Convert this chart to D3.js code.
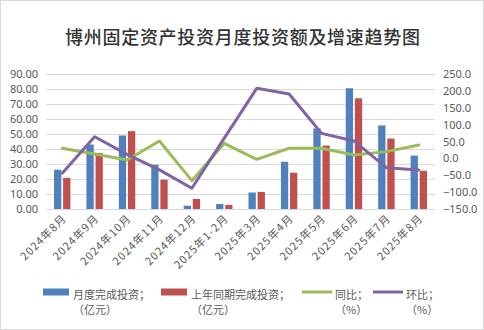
<!DOCTYPE html>
<html><head><meta charset="utf-8">
<script src="https://cdn.jsdelivr.net/npm/d3@7/dist/d3.min.js"></script>
<style>
html,body{margin:0;padding:0;background:#fff;}
svg{display:block;font-family:"Noto Sans CJK SC","Noto Sans",sans-serif;}
</style></head>
<body>
<svg id="chart" width="484" height="330"></svg>
<script>
const categories = ["2024年8月","2024年9月","2024年10月","2024年11月","2024年12月","2025年1-2月","2025年3月","2025年4月","2025年5月","2025年6月","2025年7月","2025年8月"];
const monthly = [26.2, 43.0, 49.0, 29.5, 2.2, 3.3, 11.0, 31.5, 53.7, 80.5, 55.7, 35.6];
const lastYear = [20.8, 37.4, 51.9, 19.5, 6.7, 2.7, 11.4, 24.2, 42.3, 73.8, 47.0, 25.5];
const yoy = [30, 13, -4.7, 51.6, -66, 44.7, -2.8, 30, 30, 10, 20, 39.7];
const mom = [-44, 64, 12, -34, -88.7, 60, 207.6, 190.8, 74, 51.6, -27.5, -34.4];
const leftTicks = [0,10,20,30,40,50,60,70,80,90];
const rightTicks = [-150,-100,-50,0,50,100,150,200,250];
const legendLabels = [["月度完成投资；","（亿元）"],["上年同期完成投资；","（亿元）"],["同比；","（%）"],["环比；","（%）"]];

(function(){
const colors = {blue:"#4f81bd", red:"#c0504d", green:"#9bbb59", purple:"#8064a2"};
const svg = d3.select("#chart");
const pTop = 74, pBottom = 209, pLeft = 46, pRight = 435;

svg.append("rect").attr("x",0.5).attr("y",0.5).attr("width",483).attr("height",329)
  .attr("fill","#fff").attr("stroke","#d9d9d9");

svg.append("text").attr("x",65).attr("y",44).attr("font-size",18).attr("font-weight",500)
  .attr("fill","#333333").attr("textLength",355).attr("lengthAdjust","spacing")
  .text("博州固定资产投资月度投资额及增速趋势图");

const x = d3.scaleBand().domain(categories).range([pLeft,pRight]).padding(0);
const yL = d3.scaleLinear().domain([0,90]).range([pBottom,pTop]);
const yR = d3.scaleLinear().domain([-150,250]).range([pBottom,pTop]);

svg.append("g").selectAll("line").data(leftTicks).join("line")
  .attr("x1",pLeft).attr("x2",pRight)
  .attr("y1",d=>Math.round(yL(d))+0.5).attr("y2",d=>Math.round(yL(d))+0.5)
  .attr("stroke","#d9d9d9").attr("stroke-width",1);

const axL = svg.append("g").attr("transform",`translate(${pLeft-8},0)`)
  .call(d3.axisLeft(yL).tickValues(leftTicks).tickFormat(d3.format(".2f")).tickSize(0).tickPadding(0));
axL.select(".domain").remove();
axL.selectAll("text").attr("font-size",11).attr("fill","#595959").attr("font-family","Noto Sans, sans-serif");

const axR = svg.append("g").attr("transform",`translate(${pRight+8},0)`)
  .call(d3.axisRight(yR).tickValues(rightTicks).tickFormat(d3.format(".1f")).tickSize(0).tickPadding(0));
axR.select(".domain").remove();
axR.selectAll("text").attr("font-size",11).attr("fill","#595959").attr("font-family","Noto Sans, sans-serif");

const series = ["m","l"];
const bw = 16.4;
const x1 = d3.scaleBand().domain(series).range([0,bw]).paddingInner(0.2);
const cx = d => x(d) + x.bandwidth()/2;
const gb = svg.append("g");
gb.selectAll("rect.m").data(categories).join("rect").attr("class","m")
  .attr("x",(d)=>cx(d)-bw/2+x1("m")).attr("width",x1.bandwidth())
  .attr("y",(d,i)=>yL(monthly[i])).attr("height",(d,i)=>yL(0)-yL(monthly[i]))
  .attr("fill",colors.blue);
gb.selectAll("rect.l").data(categories).join("rect").attr("class","l")
  .attr("x",(d)=>cx(d)-bw/2+x1("l")).attr("width",x1.bandwidth())
  .attr("y",(d,i)=>yL(lastYear[i])).attr("height",(d,i)=>yL(0)-yL(lastYear[i]))
  .attr("fill",colors.red);

const line = d3.line().x((d,i)=>cx(categories[i])).y(d=>yR(d));
svg.append("path").datum(yoy).attr("d",line).attr("fill","none")
  .attr("stroke",colors.green).attr("stroke-width",3).attr("stroke-linejoin","round").attr("stroke-linecap","round");
svg.append("path").datum(mom).attr("d",line).attr("fill","none")
  .attr("stroke",colors.purple).attr("stroke-width",3).attr("stroke-linejoin","round").attr("stroke-linecap","round");

svg.append("g").selectAll("text").data(categories).join("text")
  .attr("transform",d=>`translate(${cx(d)+5},${pBottom+10}) rotate(-45)`)
  .attr("text-anchor","end").attr("font-size",11).attr("letter-spacing",1).attr("fill","#595959")
  .text(d=>d);

const lgX = [43,161,302,373];
const lg = svg.append("g");
legendLabels.forEach((lab,i)=>{
  const g = lg.append("g");
  if(i<2){
    g.append("rect").attr("x",lgX[i]).attr("y",288.5).attr("width",26).attr("height",7)
      .attr("fill",i===0?colors.blue:colors.red);
  } else {
    g.append("line").attr("x1",lgX[i]).attr("x2",lgX[i]+30).attr("y1",292).attr("y2",292)
      .attr("stroke",i===2?colors.green:colors.purple).attr("stroke-width",3);
  }
  const tx = lgX[i] + (i<2?30:33);
  g.append("text").attr("x",tx).attr("y",299).attr("font-size",11).attr("fill","#595959").text(lab[0]);
  g.append("text").attr("x",tx).attr("y",314).attr("font-size",11).attr("fill","#595959").text(lab[1]);
});
})();
</script>
</body></html>
